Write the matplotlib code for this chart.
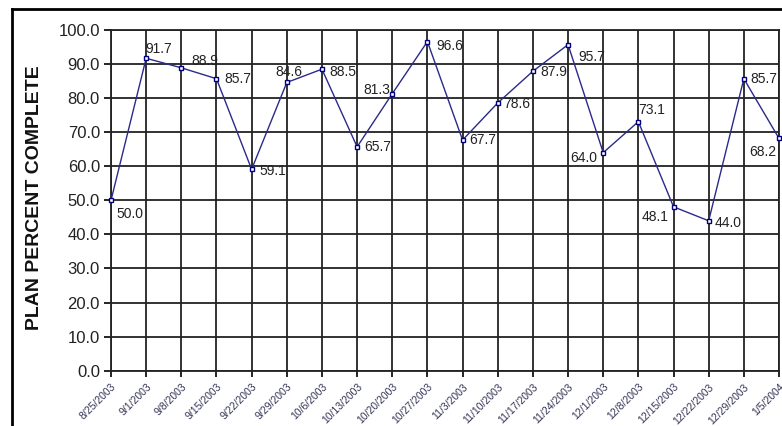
import matplotlib.pyplot as plt
from matplotlib.lines import Line2D

plt.rcParams['font.family'] = ['Liberation Sans', 'DejaVu Sans']

# weekly dates and plan percent complete
weeks = ['8/25/2003', '9/1/2003', '9/8/2003', '9/15/2003', '9/22/2003',
         '9/29/2003', '10/6/2003', '10/13/2003', '10/20/2003', '10/27/2003',
         '11/3/2003', '11/10/2003', '11/17/2003', '11/24/2003', '12/1/2003',
         '12/8/2003', '12/15/2003', '12/22/2003', '12/29/2003', '1/5/2004']
ppc = [50.0, 91.7, 88.9, 85.7, 59.1, 84.6, 88.5, 65.7, 81.3, 96.6,
       67.7, 78.6, 87.9, 95.7, 64.0, 73.1, 48.1, 44.0, 85.7, 68.2]
yticks = [0, 10, 20, 30, 40, 50, 60, 70, 80, 90, 100]

# label placement (pixel offsets, alignment)
lab_off = [(5, -14, 'left'), (-1, 9, 'left'), (10, 7, 'left'), (8, 0, 'left'),
           (8, -2, 'left'), (2, 10, 'center'), (7, -3, 'left'), (7, 0, 'left'),
           (-2, 4, 'right'), (9, -4, 'left'), (7, 0, 'left'), (6, -1, 'left'),
           (7, -1, 'left'), (10, -12, 'left'), (-6, -5, 'right'), (0, 12, 'left'),
           (-5, -10, 'right'), (6, -2, 'left'), (7, 0, 'left'), (-3, -14, 'right')]

fig = plt.figure(figsize=(7.82, 4.26), dpi=100)
ax = fig.add_axes([111 / 782, (426 - 370.7) / 426, (779 - 111) / 782, 340.7 / 426])

x = list(range(len(weeks)))
ax.plot(x, ppc, '-', color='#2a2a8a', lw=1, marker='s', ms=3.5,
        mfc='white', mec='#000080', mew=1, zorder=3, clip_on=False)

for i, v in enumerate(ppc):
    dx, dy, ha = lab_off[i]
    ax.annotate('%.1f' % v, (i, v), xytext=(dx, dy), textcoords='offset pixels',
                ha=ha, va='center', fontsize=10, color='#222222')

ax.set_xlim(0, len(weeks) - 1)
ax.set_ylim(0, 100)
ax.set_xticks(x)
ax.set_xticklabels(weeks, rotation=45, ha='right', rotation_mode='anchor',
                   fontsize=7.5, color='#333355')
ax.set_yticks(yticks)
ax.set_yticklabels(['%.1f' % t for t in yticks], fontsize=12, color='#222222')
ax.tick_params(axis='x', length=4, width=1.2, direction='out', pad=4)
ax.tick_params(axis='y', length=5, width=1.2, direction='out', pad=3)
ax.grid(True, color='#222222', lw=1.3)
ax.set_axisbelow(True)
for s in ax.spines.values():
    s.set_color('#222222')
    s.set_linewidth(1.3)

fig.text(35 / 782, 1 - 198 / 426, 'PLAN PERCENT COMPLETE', rotation=90,
         fontsize=14, fontweight='bold', ha='center', va='center', color='#111111')

# outer frame (left and top edges visible)
fig.add_artist(Line2D([11.5 / 782, 11.5 / 782], [0, 1 - 8.5 / 426], color='black', lw=2))
fig.add_artist(Line2D([11.5 / 782, 1], [1 - 8.5 / 426, 1 - 8.5 / 426], color='black', lw=2))

fig.savefig('out.png', dpi=100)
